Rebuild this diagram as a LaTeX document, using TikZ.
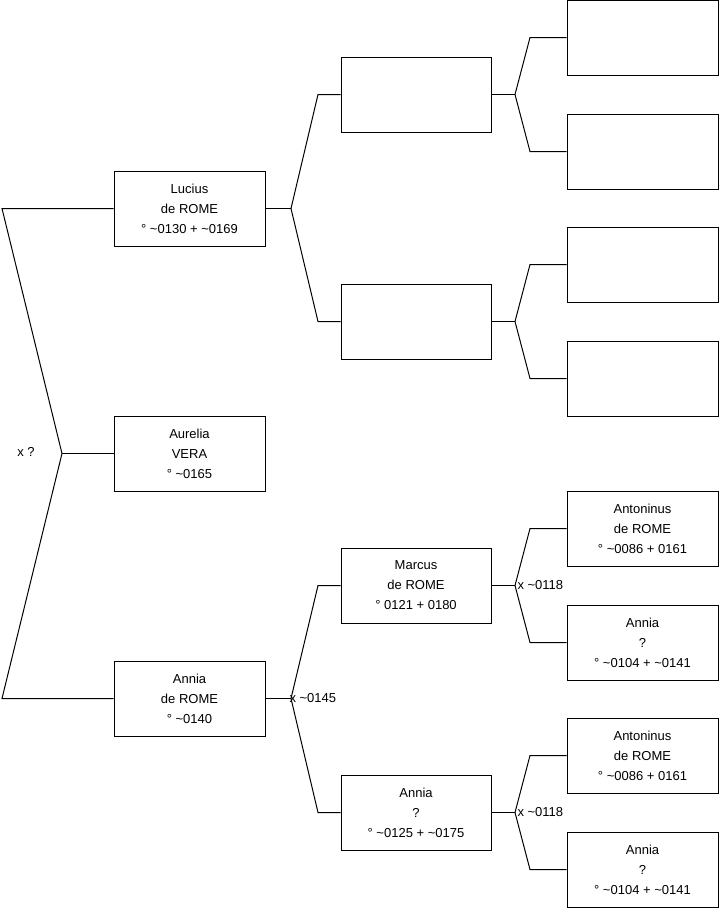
\documentclass[tikz,border=0pt]{standalone}
\usepackage{fontspec}
\setmainfont{Liberation Sans}
\newcommand{\tl}{\textasciitilde}
\begin{document}
\begin{tikzpicture}[x=1pt,y=-1pt,
  every path/.style={line width=1pt},
  pbox/.style={draw, line width=1pt, minimum width=151pt, minimum height=75pt, inner sep=0pt, align=center, font=\fontsize{13}{20}\selectfont},
  lbl/.style={inner sep=0pt, font=\fontsize{13}{16}\selectfont},
  conn/.style={draw, line width=1pt}]
\useasboundingbox (0,0) rectangle (719,908);
% level 1
\node[pbox] (luc) at (189.5,208.5) {Lucius\\de ROME\\° \tl0130 + \tl0169};
\node[pbox] (aur) at (189.5,453.5) {Aurelia\\VERA\\° \tl0165};
\node[pbox] (ann) at (189.5,698.5) {Annia\\de ROME\\° \tl0140};
% level 2
\node[pbox, minimum width=150pt] (b1) at (416,94.5) {};
\node[pbox, minimum width=150pt] (b2) at (416,321.5) {};
\node[pbox, minimum width=150pt] (mar) at (416,585.5) {Marcus\\de ROME\\° 0121 + 0180};
\node[pbox, minimum width=150pt] (an2) at (416,812.5) {Annia\\?\\° \tl0125 + \tl0175};
% level 3
\node[pbox] (c1) at (642.5,37.5) {};
\node[pbox] (c2) at (642.5,151.5) {};
\node[pbox] (c3) at (642.5,264.5) {};
\node[pbox] (c4) at (642.5,378.5) {};
\node[pbox] (ant1) at (642.5,528.5) {Antoninus\\de ROME\\° \tl0086 + 0161};
\node[pbox] (an3) at (642.5,642.5) {Annia\\?\\° \tl0104 + \tl0141};
\node[pbox] (ant2) at (642.5,755.5) {Antoninus\\de ROME\\° \tl0086 + 0161};
\node[pbox] (an4) at (642.5,869.5) {Annia\\?\\° \tl0104 + \tl0141};
% fork points
\coordinate (f0) at (62,453.5);
\coordinate (f1) at (291,208.5);
\coordinate (f3) at (291,698.5);
\coordinate (g1) at (515,94.5);
\coordinate (g2) at (515,321.5);
\coordinate (g3) at (515,585.5);
\coordinate (g4) at (515,812.5);
% level 0 connectors
\draw (luc.west) -- (2,208.5) -- (f0) -- (2,698.5) -- (ann.west);
\draw (f0) -- (aur.west);
% level 1 connectors
\draw (luc.east) -- (f1);
\draw (f1) -- (318,94.5) -- (b1.west);
\draw (f1) -- (318,321.5) -- (b2.west);
\draw (ann.east) -- (f3);
\draw (f3) -- (318,585.5) -- (mar.west);
\draw (f3) -- (318,812.5) -- (an2.west);
% level 2 connectors
\draw (b1.east) -- (g1);
\draw (g1) -- (530,37.5) -- (c1.west);
\draw (g1) -- (530,151.5) -- (c2.west);
\draw (b2.east) -- (g2);
\draw (g2) -- (530,264.5) -- (c3.west);
\draw (g2) -- (530,378.5) -- (c4.west);
\draw (mar.east) -- (g3);
\draw (g3) -- (530,528.5) -- (ant1.west);
\draw (g3) -- (530,642.5) -- (an3.west);
\draw (an2.east) -- (g4);
\draw (g4) -- (530,755.5) -- (ant2.west);
\draw (g4) -- (530,869.5) -- (an4.west);
% labels
\node[lbl] (l0) at (26,452) {x ?};
\node[lbl, anchor=west] (l1) at (289,698) {x \tl0145};
\node[lbl, anchor=west] (l2) at (517,585) {x \tl0118};
\node[lbl, anchor=west] (l3) at (517,812) {x \tl0118};
\end{tikzpicture}
\end{document}
